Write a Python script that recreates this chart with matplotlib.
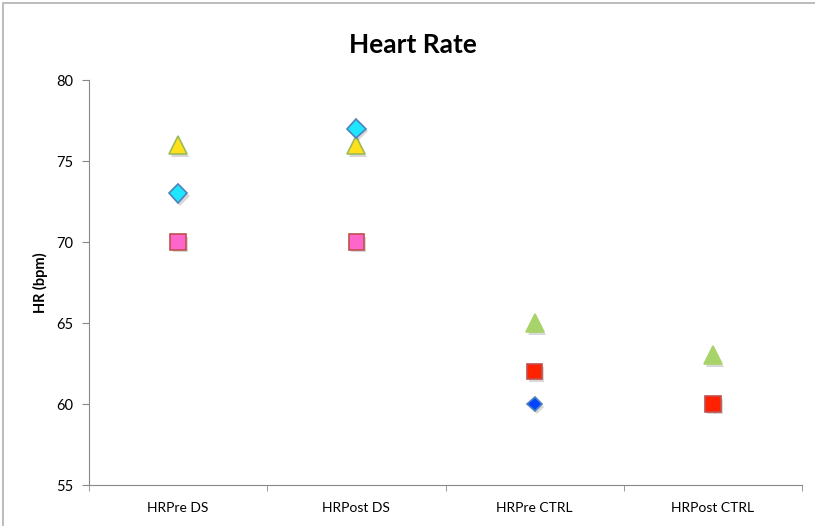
import matplotlib.pyplot as plt
import matplotlib.patheffects as pe
import numpy as np

categories = ["HRPre DS", "HRPost DS", "HRPre CTRL", "HRPost CTRL"]
nan = np.nan
ds_triangle = [76, 76, nan, nan]
ds_diamond = [73, 77, nan, nan]
ds_square = [70, 70, nan, nan]
ctrl_triangle = [nan, nan, 65, 63]
ctrl_diamond = [nan, nan, 60, 60]
ctrl_square = [nan, nan, 62, 60]

plt.rcParams['font.family'] = ['Lato', 'DejaVu Sans']

fig = plt.figure(figsize=(8.15, 5.26), dpi=100)
ax = fig.add_axes([89 / 815, 1 - 485 / 526, 713 / 815, 405 / 526])

# outer chart border (Excel style)
border = plt.Rectangle((3 / 815, -0.1), 1.2, 1 - 3 / 526 + 0.1, transform=fig.transFigure,
                       fill=False, edgecolor="#b0b0b0", linewidth=1.2)
fig.patches.append(border)

shadow = [pe.SimplePatchShadow(offset=(1.5, -2), alpha=0.25, shadow_rgbFace="#666666"), pe.Normal()]
x = np.arange(len(categories))

series = [
    (ds_triangle, "^", 13, "#ffe01a", "#9bbb59"),
    (ds_diamond, "D", 9.5, "#1ee6ff", "#4f81bd"),
    (ds_square, "s", 11, "#ff66cc", "#c0504d"),
    (ctrl_triangle, "^", 13, "#a8d26a", "#a8d26a"),
    (ctrl_diamond, "D", 7.5, "#0044ff", "#4f81bd"),
    (ctrl_square, "s", 11, "#ff2200", "#c0504d"),
]
for vals, m, ms, fc, ec in series:
    ax.plot(x, vals, linestyle="none", marker=m, markersize=ms,
            markerfacecolor=fc, markeredgecolor=ec, markeredgewidth=1.2,
            path_effects=shadow)

ax.set_xlim(-0.5, len(categories) - 0.5)
ax.set_ylim(55, 80)
ax.set_yticks([55, 60, 65, 70, 75, 80])
ax.set_xticks(x)
ax.set_xticklabels(categories)
ax.set_xticks(np.arange(-0.5, len(categories)), minor=True)
ax.tick_params(axis="x", which="major", length=0, pad=12, labelsize=10)
ax.tick_params(axis="x", which="minor", length=4, color="#888888", direction="out")
ax.tick_params(axis="y", length=5, color="#888888", labelsize=10.5, pad=6)

for s in ["top", "right"]:
    ax.spines[s].set_visible(False)
for s in ["left", "bottom"]:
    ax.spines[s].set_color("#888888")

ax.set_ylabel("HR (bpm)", fontweight="bold", fontsize=10.5, labelpad=6)
fig.text(0.507, 0.915, "Heart Rate", ha="center", va="center", fontsize=19, fontweight="bold")

fig.savefig("out.png", dpi=100)
